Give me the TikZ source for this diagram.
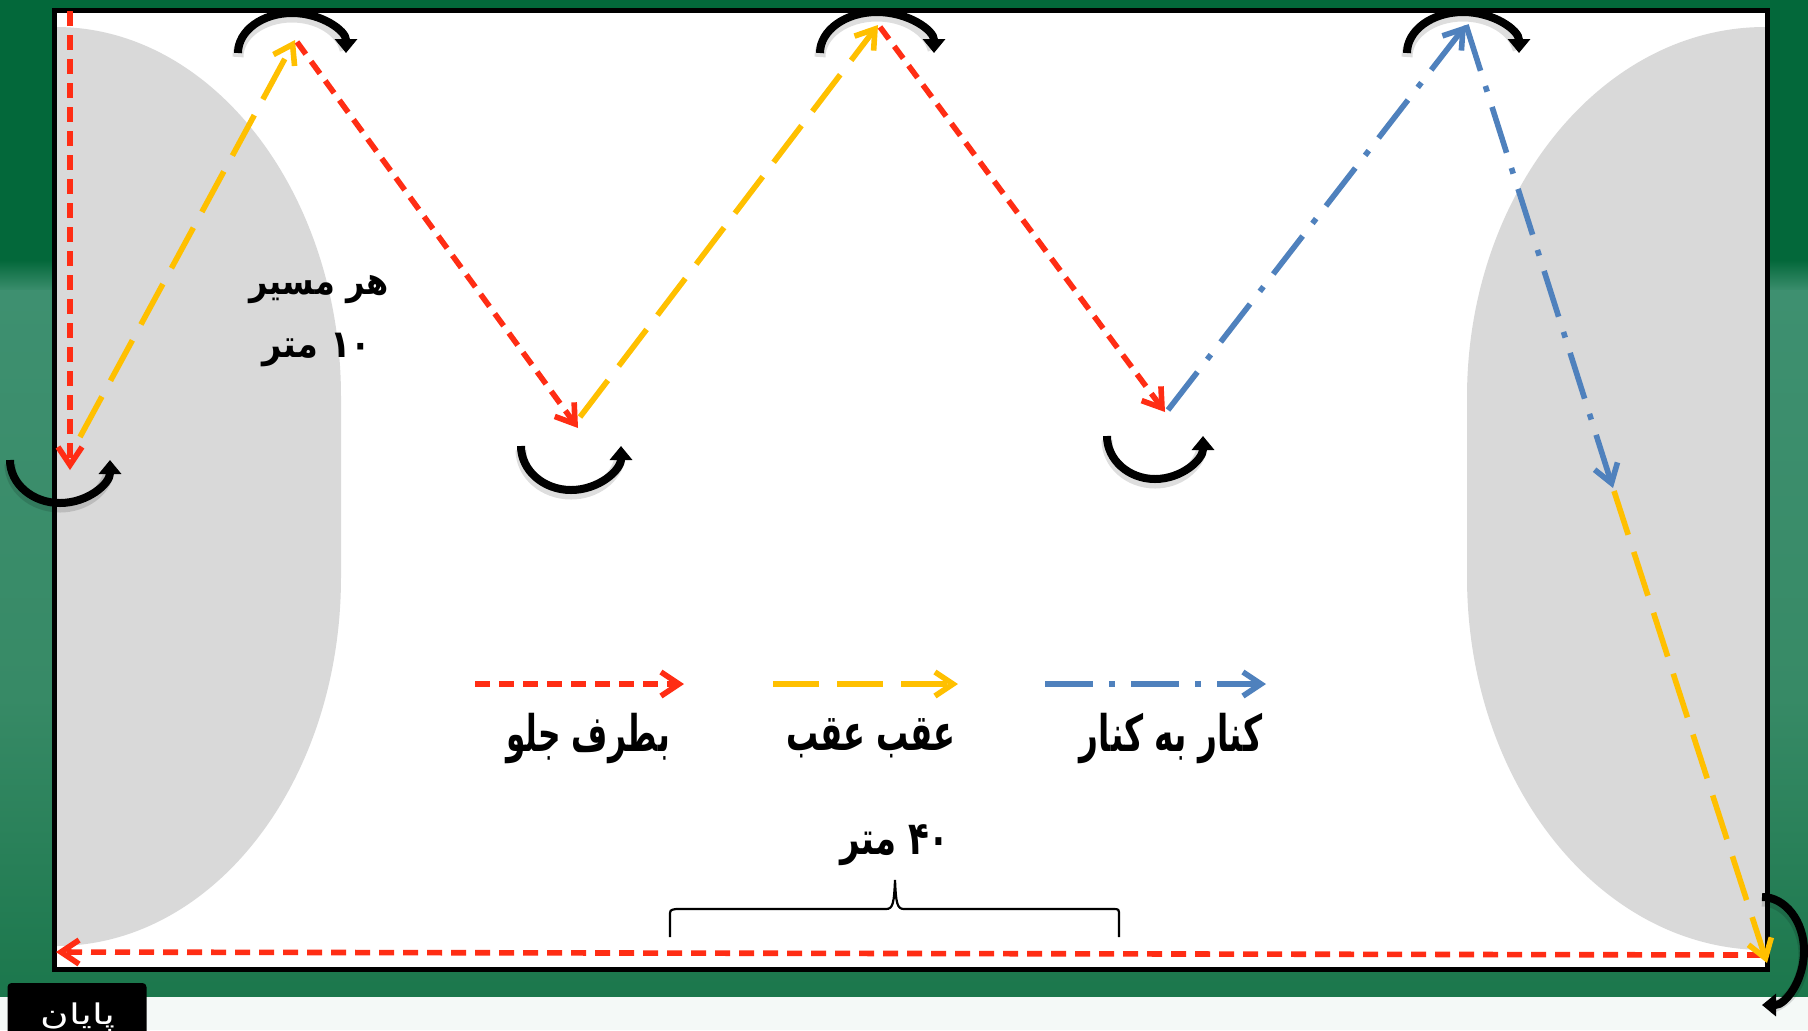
\documentclass[tikz,border=0pt]{standalone}
\usepackage{graphicx}
\usepackage{fontspec}
\newfontfamily\fa[Script=Arabic]{DejaVu Sans}
\TeXXeTstate=1
\usetikzlibrary{arrows.meta}
\definecolor{dkgreen}{HTML}{03683A}
\definecolor{mdgreen}{HTML}{3E9070}
\definecolor{lgreen}{HTML}{378A66}
\definecolor{btgreen}{HTML}{1B774C}
\definecolor{offwhite}{HTML}{F4F9F7}
\definecolor{zone}{HTML}{D9D9D9}
\definecolor{fwd}{HTML}{FF2D14}
\definecolor{back}{HTML}{FFC000}
\definecolor{side}{HTML}{4F81BD}
\tikzset{
  barb/.style={-{Straight Barb[length=9pt,width=12pt]}},
  fwdline/.style={draw=fwd, line width=2.8pt, dash pattern=on 7.5pt off 4.5pt, barb},
  backline/.style={draw=back, line width=2.8pt, dash pattern=on 23pt off 9pt, barb},
  sideline/.style={draw=side, line width=2.8pt, dash pattern=on 24pt off 8pt on 3pt off 8pt, barb},
  turn/.style={draw=black, line width=4pt, -{Triangle[length=7pt,width=11pt]}},
  turnshadow/.style={draw=black, opacity=0.13, line width=5.5pt},
  lbl/.style={font=\fa\bfseries\fontsize{20pt}{24pt}\selectfont, inner sep=0pt},
  zlbl/.style={font=\fa\bfseries\fontsize{16pt}{19pt}\selectfont, inner sep=0pt},
  endlbl/.style={font=\fa\fontsize{15pt}{18pt}\selectfont, text=white, inner sep=0pt},
}
\begin{document}
\begin{tikzpicture}[x=0.5pt,y=-0.5pt]
\useasboundingbox (0,0) rectangle (1808,1030);
% background
\fill[dkgreen] (0,0) rectangle (1808,262);
\shade[top color=dkgreen, bottom color=mdgreen] (0,260) rectangle (1808,292);
\shade[top color=mdgreen, bottom color=lgreen] (0,290) rectangle (1808,700);
\shade[top color=lgreen, bottom color=btgreen] (0,698) rectangle (1808,998);
\fill[offwhite] (0,997) rectangle (1808,1030);
% board
\fill[white] (54,10) rectangle (1767,969);
\fill[zone] (56,27) .. controls (214,27) and (341,195) .. (341,397) -- (341,577) .. controls (341,781) and (214,946) .. (56,946) -- cycle;
\fill[zone] (1765,27) .. controls (1600,27) and (1467,195) .. (1467,397) -- (1467,577) .. controls (1467,783) and (1600,950) .. (1765,950) -- cycle;
\draw[line width=2.5pt] (54,10) rectangle (1767,969);

% path points
\coordinate (s0) at (70,11);
\coordinate (a1) at (70,470);
\coordinate (b0) at (80,437);
\coordinate (a2) at (295,40);
\coordinate (a2o) at (297,42);
\coordinate (a3) at (578,428);
\coordinate (b3) at (580,417);
\coordinate (a4) at (878,25);
\coordinate (a4o) at (880,27);
\coordinate (a5) at (1165,412);
\coordinate (c5) at (1168,410);
\coordinate (a6) at (1466,25);
\coordinate (a7) at (1613,488);
\coordinate (a7o) at (1614,491);
\coordinate (a8) at (1767,963);
\coordinate (r8) at (1762,955);
\coordinate (a9) at (56,952);

\draw[fwdline] (s0) -- (a1);
\draw[backline] (b0) -- (a2);
\draw[fwdline] (a2o) -- (a3);
\draw[backline] (b3) -- (a4);
\draw[fwdline] (a4o) -- (a5);
\draw[sideline] (c5) -- (a6);
\draw[sideline] (a6) -- (a7);
\draw[fwdline] (r8) -- (a9);
\draw[backline] (a7o) -- (a8);

% turn arrows
\coordinate (t1) at (238,53);
\coordinate (t2) at (820,53);
\coordinate (t3) at (1407,53);
\coordinate (u1) at (10,460);
\coordinate (u2) at (521,446);
\coordinate (u3) at (1107,436);
\coordinate (u4) at (1762,897);
\foreach \p/\rx/\ry in {t1/27/20, t2/28.5/20.5, t3/28/20.5}{
  \draw[turnshadow] ([yshift=-2pt]\p) arc[start angle=180, end angle=10, x radius=\rx pt, y radius=\ry pt];
  \draw[turn] (\p) arc[start angle=180, end angle=0, x radius=\rx pt, y radius=\ry pt];
}
\foreach \p/\rx/\ry in {u1/25/21.5, u2/25/22, u3/24/21.5}{
  \draw[turnshadow] ([yshift=-2pt]\p) arc[start angle=180, end angle=350, x radius=\rx pt, y radius=\ry pt];
  \draw[turn] (\p) arc[start angle=180, end angle=360, x radius=\rx pt, y radius=\ry pt];
}
\draw[turnshadow] ([yshift=-2pt]u4) arc[start angle=90, end angle=-80, x radius=21pt, y radius=27pt];
\draw[turn] (u4) arc[start angle=90, end angle=-90, x radius=21pt, y radius=27pt];

% zone label
\node[zlbl] (zl1) at (319,290) {\scalebox{1}[1.18]{\beginR هر مسیر\endR}};
\node[zlbl] (zl2) at (317,350) {\scalebox{1.05}[1.2]{\beginR ۱۰ متر\endR}};

% legend
\coordinate (lf0) at (475,684);
\coordinate (lf1) at (684,684);
\coordinate (lb0) at (773,684);
\coordinate (lb1) at (958,684);
\coordinate (ls0) at (1045,684);
\coordinate (ls1) at (1266,684);
\draw[fwdline] (lf0) -- (lf1);
\draw[backline] (lb0) -- (lb1);
\draw[sideline] (ls0) -- (ls1);
\node[lbl] (tf) at (588,738) {\scalebox{0.78}[1.26]{\beginR بطرف جلو\endR}};
\node[lbl] (tb) at (871,738) {\scalebox{0.8}[1.26]{\beginR عقب عقب\endR}};
\node[lbl] (ts) at (1171,738) {\scalebox{0.82}[1.26]{\beginR کنار به کنار\endR}};

% distance brace
\node[lbl] (dist) at (895,845) {\scalebox{0.85}[1.15]{\beginR ۴۰ متر\endR}};
\coordinate (brL) at (670,937);
\coordinate (brT) at (895,880);
\coordinate (brR) at (1119,937);
\draw[line width=1.1pt] (brL) -- (670,916) .. controls (670,910) .. (676,909) -- (886,909) .. controls (893,909) and (894,903) .. (brT) .. controls (896,903) and (897,909) .. (904,909) -- (1113,909) .. controls (1119,909) .. (1119,916) -- (brR);

% end label
\node[fill=black, rounded corners=2pt, minimum width=69.5pt, minimum height=30pt, inner sep=0pt] (endbox) at (77,1013) {};
\node[endlbl, anchor=base] (endtxt) at (78,1024) {\scalebox{1.3}[0.95]{\beginR پایان\endR}};
\end{tikzpicture}
\end{document}
